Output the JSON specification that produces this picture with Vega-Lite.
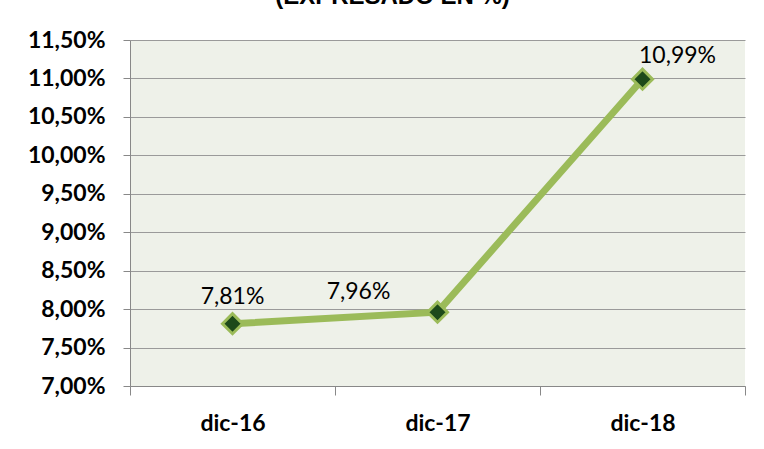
{
  "$schema": "https://vega.github.io/schema/vega-lite/v6.json",
  "width": 615,
  "height": 346,
  "autosize": {"type": "none"},
  "padding": {"left": 130, "top": 40, "right": 19, "bottom": 63},
  "background": "white",
  "title": {
    "text": "(EXPRESADO EN %)",
    "font": "Liberation Sans",
    "fontSize": 24,
    "fontWeight": "bold",
    "color": "#000000",
    "baseline": "alphabetic",
    "offset": 1,
    "anchor": "middle",
    "dx": -45
  },
  "config": {
    "locale": {"number": {"decimal": ",", "thousands": ".", "grouping": [3], "currency": ["", " €"]}},
    "view": {"fill": "#eef1e9", "stroke": null},
    "font": "Lato"
  },
  "data": {
    "values": [
      {"periodo": "dic-16", "tasa": 0.0781},
      {"periodo": "dic-17", "tasa": 0.0796},
      {"periodo": "dic-18", "tasa": 0.1099}
    ]
  },
  "encoding": {
    "x": {
      "field": "periodo",
      "type": "ordinal",
      "sort": null,
      "scale": {"paddingInner": 0, "paddingOuter": 0},
      "axis": {
        "title": null,
        "labelAngle": 0,
        "labelFont": "Lato",
        "labelFontWeight": "bold",
        "labelFontSize": 23,
        "labelColor": "#000000",
        "labelPadding": 17,
        "tickSize": 9,
        "tickColor": "#888888",
        "tickBand": "extent",
        "domainColor": "#888888",
        "grid": false
      }
    },
    "y": {
      "field": "tasa",
      "type": "quantitative",
      "scale": {"domain": [0.07, 0.115], "nice": false, "zero": false},
      "axis": {
        "title": null,
        "values": [0.07, 0.075, 0.08, 0.085, 0.09, 0.095, 0.1, 0.105, 0.11, 0.115],
        "format": ".2%",
        "labelFont": "Lato",
        "labelFontWeight": "bold",
        "labelFontSize": 23,
        "labelColor": "#000000",
        "labelPadding": 18,
        "tickSize": 7,
        "tickColor": "#888888",
        "domainColor": "#888888",
        "gridColor": "#9a9a9a",
        "gridOpacity": 1
      }
    }
  },
  "layer": [
    {
      "mark": {"type": "line", "color": "#9bbb59", "strokeWidth": 7}
    },
    {
      "mark": {"type": "point", "shape": "diamond", "size": 400, "filled": true, "fill": "#1d4a1a", "stroke": "#9bbb59", "strokeWidth": 3, "opacity": 1}
    },
    {
      "transform": [{"filter": "datum.periodo == 'dic-16'"}],
      "mark": {"type": "text", "font": "Lato", "fontSize": 23, "baseline": "bottom", "align": "center", "dy": -15, "color": "#000000"},
      "encoding": {"text": {"field": "tasa", "type": "quantitative", "format": ".2%"}}
    },
    {
      "transform": [{"filter": "datum.periodo == 'dic-17'"}],
      "mark": {"type": "text", "font": "Lato", "fontSize": 23, "baseline": "bottom", "align": "center", "dx": -79, "dy": -8, "color": "#000000"},
      "encoding": {"text": {"field": "tasa", "type": "quantitative", "format": ".2%"}}
    },
    {
      "transform": [{"filter": "datum.periodo == 'dic-18'"}],
      "mark": {"type": "text", "font": "Lato", "fontSize": 23, "baseline": "bottom", "align": "center", "dx": 35, "dy": -11, "color": "#000000"},
      "encoding": {"text": {"field": "tasa", "type": "quantitative", "format": ".2%"}}
    }
  ]
}
